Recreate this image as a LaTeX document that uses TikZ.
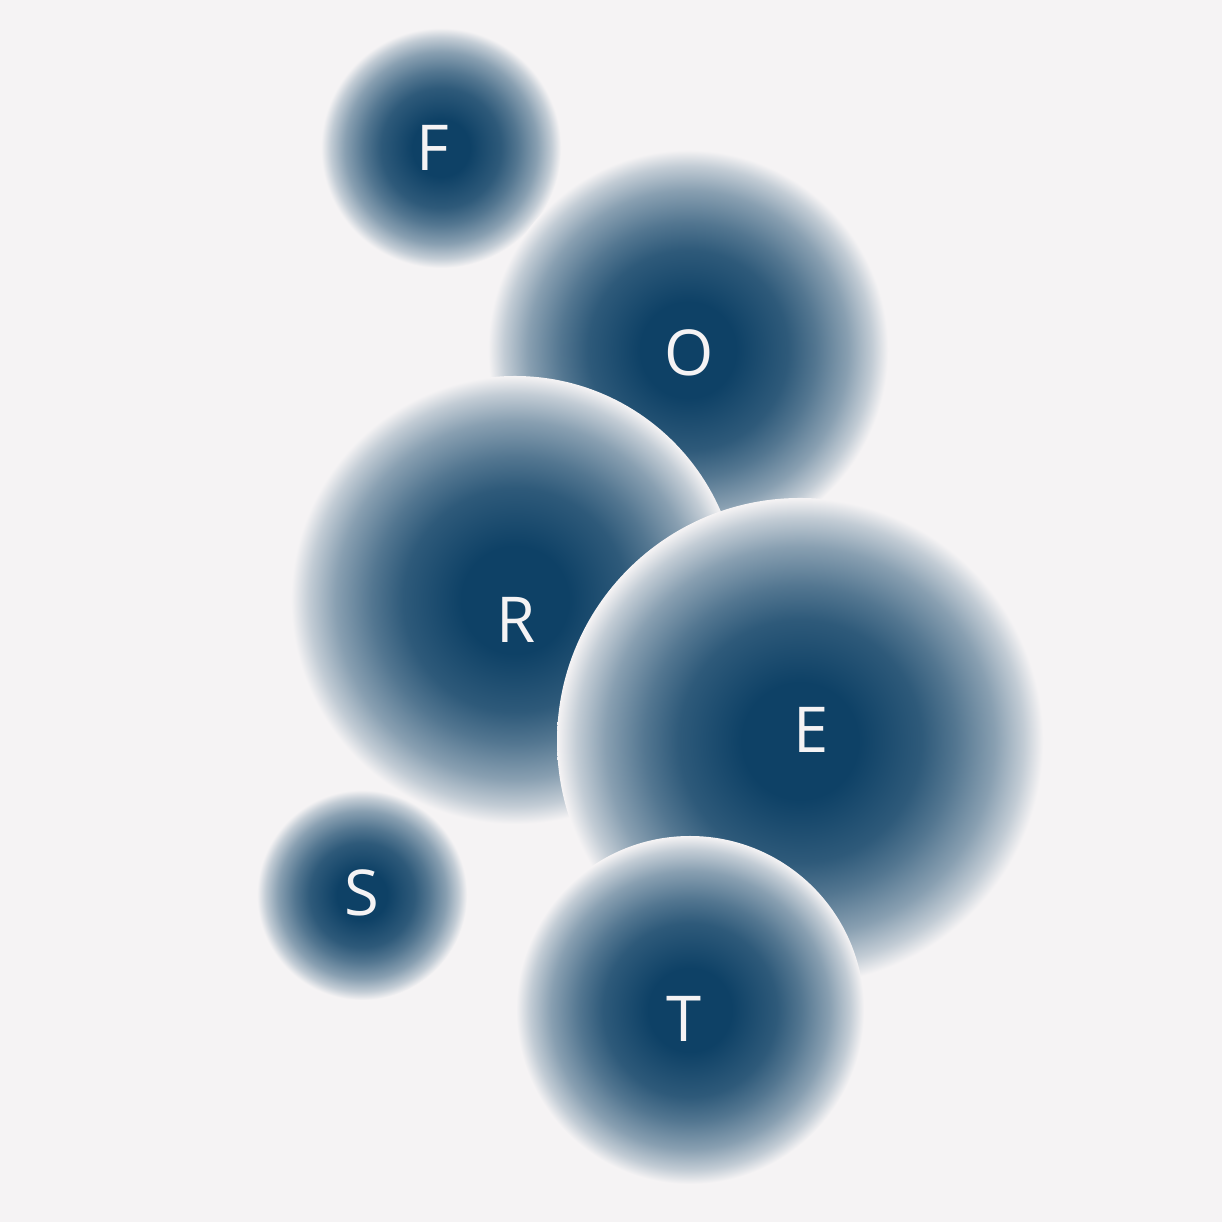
\documentclass[tikz,border=0pt]{standalone}
\usepackage{fontspec}
\setmainfont{Open Sans}
\usepackage{tikz}
\definecolor{bgcol}{HTML}{F5F3F4}
\definecolor{dkblue}{HTML}{0E4166}
\pgfdeclareradialshading{bubblefade}{\pgfpointorigin}{color(0bp)=(dkblue); color(6bp)=(dkblue); color(12.5bp)=(dkblue!86!bgcol); color(16bp)=(dkblue!70!bgcol); color(20bp)=(dkblue!47!bgcol); color(23bp)=(dkblue!22!bgcol); color(25bp)=(bgcol); color(50bp)=(bgcol)}
\tikzstyle{bubble}=[circle,inner sep=0pt,shading=bubblefade]
\tikzstyle{letter}=[inner sep=0pt,text=bgcol,font=\fontsize{18}{20}\selectfont]

\begin{document}
\begin{tikzpicture}
\fill[bgcol] (0,0) rectangle (12.22,12.22);
\useasboundingbox (0,0) rectangle (12.22,12.22);
\node[bubble,minimum size=2.40cm] (F) at (4.41,10.74) {};
\node[bubble,minimum size=4.00cm] (O) at (6.88,8.72) {};
\node[bubble,minimum size=4.48cm] (R) at (5.15,6.22) {};
\node[bubble,minimum size=4.86cm] (E) at (8.00,4.81) {};
\node[bubble,minimum size=2.10cm] (S) at (3.62,3.27) {};
\node[bubble,minimum size=3.48cm] (T) at (6.90,2.12) {};
\node[letter] (lF) at (4.33,10.74) {F};
\node[letter] (lO) at (6.89,8.69) {O};
\node[letter] (lR) at (5.16,6.02) {R};
\node[letter] (lE) at (8.11,4.92) {E};
\node[letter] (lS) at (3.62,3.29) {S};
\node[letter] (lT) at (6.84,2.03) {T};
\end{tikzpicture}
\end{document}
